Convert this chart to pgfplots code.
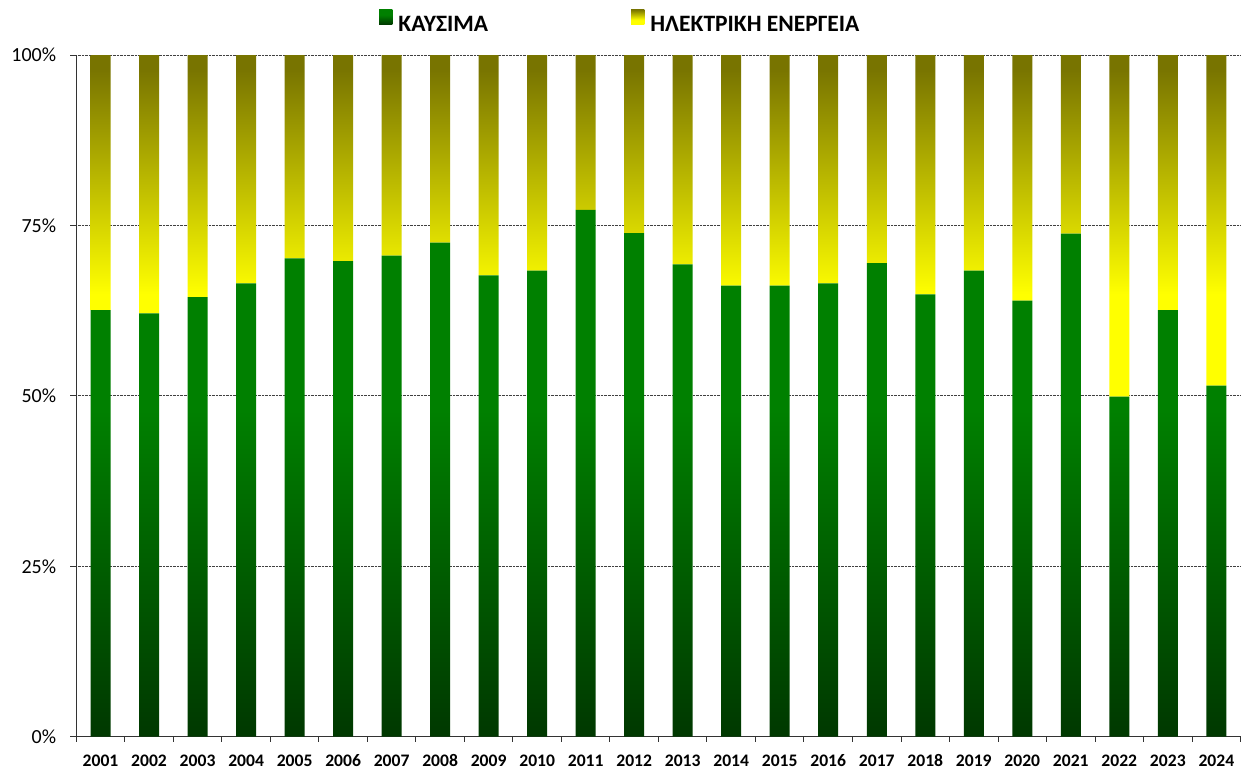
\documentclass[border=0pt]{standalone}
\usepackage{pgfplots}
\pgfplotsset{compat=1.18}
\usepackage{pgfplotstable}
\usepackage{fontspec}
\setmainfont{Carlito}
\definecolor{gbot}{RGB}{0,56,0}
\definecolor{gtop}{RGB}{0,128,0}
\definecolor{ybot}{RGB}{255,255,0}
\definecolor{ytop}{RGB}{120,116,0}
\pgfdeclareverticalshading{greenbar}{100bp}{color(0bp)=(gbot); color(25bp)=(gbot); color(56bp)=(gtop); color(75bp)=(gtop); color(100bp)=(gtop)}
\pgfdeclareverticalshading{yellowbar}{100bp}{color(0bp)=(ybot); color(25bp)=(ybot); color(40bp)=(ybot); color(73bp)=(ytop); color(100bp)=(ytop)}
\pgfplotstableread{
x g e
0 62.6 37.4
1 62.1 37.9
2 64.5 35.5
3 66.5 33.5
4 70.2 29.8
5 69.8 30.2
6 70.6 29.4
7 72.5 27.5
8 67.7 32.3
9 68.4 31.6
10 77.3 22.7
11 73.9 26.1
12 69.3 30.7
13 66.2 33.8
14 66.2 33.8
15 66.5 33.5
16 69.5 30.5
17 64.9 35.1
18 68.4 31.6
19 64.0 36.0
20 73.8 26.2
21 49.9 50.1
22 62.6 37.4
23 51.5 48.5
}\data
\begin{document}
\begin{tikzpicture}
\begin{axis}[
  name=ax, at={(0,0)}, anchor=south west,
  scale only axis, width=1164.3bp, height=681.5bp,
  ybar stacked, bar width=20bp,
  xmin=-0.5, xmax=23.5, ymin=0, ymax=100,
  axis x line*=bottom, axis y line*=left,
  axis line style={black!80, line width=1bp},
  xtick={0,...,23},
  xticklabels={2001,2002,2003,2004,2005,2006,2007,2008,2009,2010,2011,2012,2013,2014,2015,2016,2017,2018,2019,2020,2021,2022,2023,2024},
  major x tick style={draw=none},
  minor xtick={-0.5,0.5,...,23.5},
  minor x tick style={black!80, line width=1bp},
  ytick={0,25,50,75,100},
  yticklabels={0\%,25\%,50\%,75\%,100\%},
  major y tick style={black!80, line width=1bp},
  tick align=outside, major tick length=6bp, minor tick length=5bp,
  ymajorgrids, grid style={densely dotted, black!75, line width=1bp},
  xticklabel style={font=\fontsize{17.6bp}{20bp}\selectfont\bfseries, inner sep=0pt, text height=11.1bp, text depth=0pt, anchor=north, yshift=-12.6bp},
  yticklabel style={font=\fontsize{20bp}{24bp}\selectfont, inner sep=0pt, xshift=-14bp},
  legend columns=2,
  legend style={draw=none, fill=none, at={(0.2574,1.0502)}, anchor=west,
    font=\fontsize{23.5bp}{28bp}\selectfont\bfseries,
    nodes={inner sep=0pt},
    /tikz/every odd column/.append style={column sep=6bp},
    /tikz/every even column/.append style={column sep=143bp}},
]
\addplot[draw=none, shade, shading=greenbar,
  legend image code/.code={\path[shade, shading=greenbar] (0bp,0bp) rectangle (13.3bp,15.4bp);}]
  table[x=x, y=g] {\data};
\addlegendentry{ΚΑΥΣΙΜΑ}
\addplot[draw=none, shade, shading=yellowbar,
  legend image code/.code={\path[shade, shading=yellowbar] (0bp,0bp) rectangle (13.3bp,15.4bp);}]
  table[x=x, y=e] {\data};
\addlegendentry{ΗΛΕΚΤΡΙΚΗ ΕΝΕΡΓΕΙΑ}
\end{axis}
\pgfresetboundingbox
\path (ax.south west) ++(-76.3bp,-32.3bp) rectangle ++(1247bp,769bp);
\end{tikzpicture}
\end{document}
